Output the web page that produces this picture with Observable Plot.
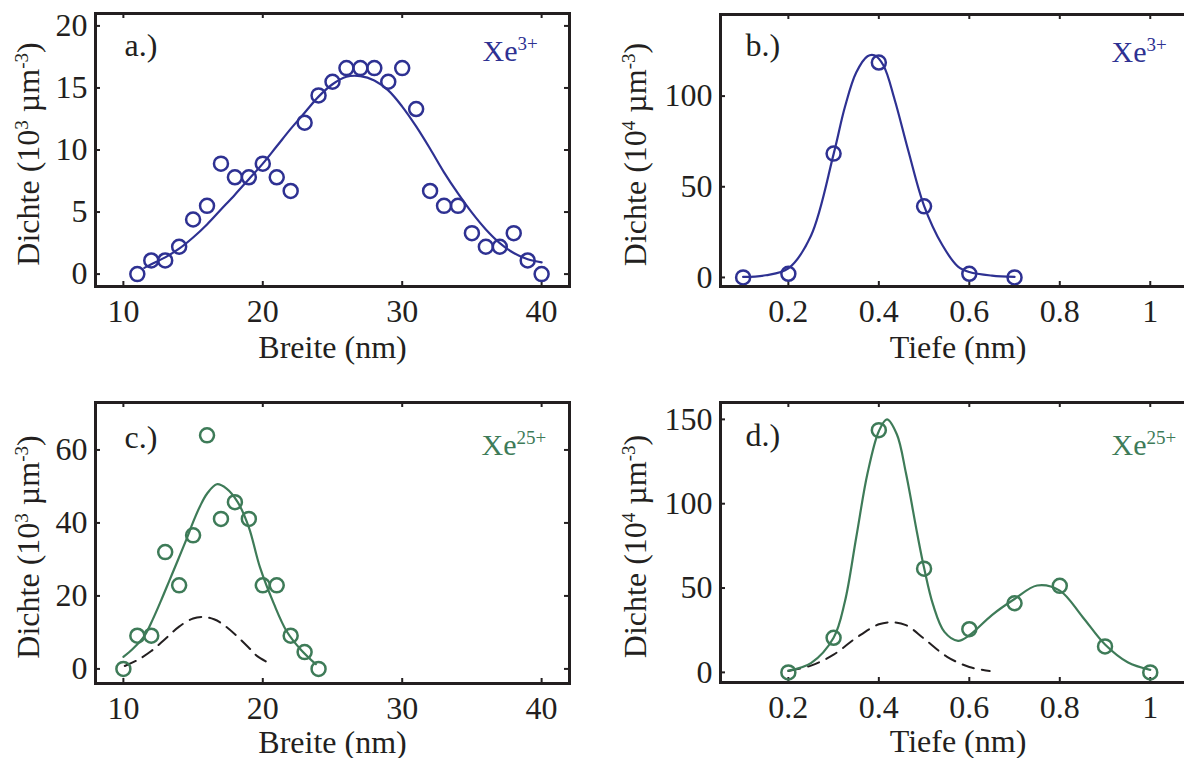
<!DOCTYPE html>
<html><head><meta charset="utf-8">
<script src="https://cdn.jsdelivr.net/npm/d3@7"></script>
<script src="https://cdn.jsdelivr.net/npm/@observablehq/plot@0.6"></script>
<style>
html,body{margin:0;padding:0;background:#fff;overflow:hidden;}
#wrap{position:relative;width:1184px;height:758px;overflow:hidden;background:#fff;}
#wrap svg{position:absolute;overflow:visible;}
#wrap svg, #wrap svg text, #wrap svg tspan{font-family:"Liberation Serif","Times New Roman",Times,serif !important;}
</style></head><body><div id="wrap"></div>
<script>
// ---- data ----
const breiteTicks = [10, 20, 30, 40];
const tiefeTicks = [0.2, 0.4, 0.6, 0.8, 1];
const aYTicks = [0, 5, 10, 15, 20];
const bYTicks = [0, 50, 100];
const cYTicks = [0, 20, 40, 60];
const dYTicks = [0, 50, 100, 150];

// a.) Xe3+ Breite
const aX = [11,12,13,14,15,16,17,18,19,20,21,22,23,24,25,26,27,28,29,30,31,32,33,34,35,36,37,38,39,40];
const aY = [0,1.1,1.1,2.2,4.4,5.5,8.9,7.8,7.8,8.9,7.8,6.7,12.2,14.4,15.5,16.6,16.6,16.6,15.5,16.6,13.3,6.7,5.5,5.5,3.3,2.2,2.2,3.3,1.1,0];
const aFitX = [11.5,12,13,14,15,16,17,18,19,20,21,22,23,24,25,26,27,28,29,30,31,32,33,34,35,36,37,38,39,40];
const aFitY = [0.5,0.8,1.35,2.05,2.95,4.0,5.2,6.4,7.65,8.9,10.3,11.7,13.0,14.3,15.3,15.9,15.95,15.6,14.8,13.5,11.9,10.1,8.2,6.5,4.95,3.6,2.5,1.7,1.2,0.95];

// b.) Xe3+ Tiefe
const bX = [0.1,0.2,0.3,0.4,0.5,0.6,0.7];
const bY = [0,2,68.3,118.5,39.2,2,0];
const bFitX = [0.1,0.15,0.2,0.25,0.3,0.325,0.35,0.375,0.39,0.41,0.435,0.465,0.5,0.54,0.575,0.6,0.65,0.7];
const bFitY = [0.3,1.2,5.0,23,68,94,113,122,122.5,117,98,70,39.5,18,6,3,1,0.3];

// c.) Xe25+ Breite
const cX = [10,11,12,13,14,15,16,17,18,19,20,21,22,23,24];
const cY = [0,9.1,9.1,32.0,22.9,36.6,64.0,41.1,45.7,41.1,22.9,22.9,9.1,4.6,0];
const cFitX = [10,10.7,11.5,12.1,12.7,13.3,13.9,14.5,15.05,15.5,16,16.7,17.4,18.2,19,19.8,20.8,21.7,22.7,23.8];
const cFitY = [3.3,5.6,9.0,13.5,18.7,24.2,29.7,35.3,40.7,44.6,48.0,50.6,49.4,45.7,38.8,27.8,17.8,10.4,5.4,1.3];
const cDashX = [10.1,11,12,13,14,15,15.8,16.5,17,18,19,19.6,20.4];
const cDashY = [0.8,2.4,4.9,8.2,11.6,13.8,14.2,13.6,12.6,9.5,5.8,3.5,1.7];

// d.) Xe25+ Tiefe
const dX = [0.2,0.3,0.4,0.5,0.6,0.7,0.8,0.9,1.0];
const dY = [0,20.5,143.6,61.5,25.6,41.0,51.3,15.4,0];
const dFitX = [0.2,0.25,0.3,0.325,0.35,0.375,0.4,0.418,0.44,0.46,0.485,0.5,0.52,0.545,0.575,0.6,0.65,0.7,0.75,0.8,0.85,0.9,0.95,1.0];
const dFitY = [1,5.5,20.5,42,80,118,143,150,141,118,82,62,40,24,18.7,22,34,43.5,51.5,48.5,33,16.5,6,1.5];
const dDashX = [0.2,0.25,0.3,0.35,0.4,0.43,0.46,0.5,0.55,0.6,0.645];
const dDashY = [0.8,4,10.5,20.5,28.5,29.7,28,20,9.4,3.2,0.8];

// ---- styling ----
const ink = "#231f20";
const blue = "#2e3192";
const green = "#3e7b58";
const FONT = "Liberation Serif, Times New Roman, Times, serif";

const zip = (xs, ys) => xs.map((x, i) => ({x, y: ys[i]}));

function supify(svg) {
  d3.select(svg).selectAll("text").each(function() {
    const s = this.textContent;
    if (!s.includes("^{")) return;
    const parts = s.split(/\^\{([^}]*)\}/);
    while (this.firstChild) this.removeChild(this.firstChild);
    let raised = false;
    parts.forEach((p, i) => {
      if (p === "") return;
      const t = document.createElementNS("http://www.w3.org/2000/svg", "tspan");
      t.textContent = p;
      if (i % 2 === 1) { t.setAttribute("font-size", "19"); t.setAttribute("dy", "-11"); raised = true; }
      else if (raised) { t.setAttribute("dy", "11"); raised = false; }
      this.appendChild(t);
    });
  });
}

function panel(c) {
  const innerW = c.width - c.ml - c.mr, innerH = c.height - c.mt - c.mb;
  const tickStyle = {stroke: ink, strokeWidth: 2};
  const marks = [
    Plot.ruleX(c.xTicks, {x: d => d, insetTop: innerH - 5, ...tickStyle}),
    Plot.ruleX(c.xTicks, {x: d => d, insetBottom: innerH - 5, ...tickStyle}),
    Plot.ruleY(c.yTicks, {y: d => d, insetRight: innerW - 5, ...tickStyle}),
    Plot.ruleY(c.yTicks, {y: d => d, insetLeft: innerW - 5, ...tickStyle}),
    Plot.axisX({ticks: c.xTicks, tickSize: 0, tickPadding: 13, label: null, fontSize: 32, fontFamily: FONT, fill: ink, tickFormat: d => String(d)}),
    Plot.axisY({ticks: c.yTicks, tickSize: 0, tickPadding: 8, label: null, fontSize: 32, fontFamily: FONT, fill: ink, tickFormat: d => String(d)})
  ];
  if (c.dash) marks.push(Plot.line(c.dash, {x: "x", y: "y", stroke: ink, strokeWidth: 2, strokeDasharray: "12,8", curve: "catmull-rom"}));
  marks.push(Plot.line(c.fit, {x: "x", y: "y", stroke: c.color, strokeWidth: 2.2, curve: "catmull-rom"}));
  marks.push(Plot.dot(c.pts, {x: "x", y: "y", r: 7, stroke: c.color, strokeWidth: 2.5, fill: "none"}));
  marks.push(Plot.frame({stroke: ink, strokeWidth: 3}));
  const txt = {fontFamily: FONT, lineAnchor: "bottom"};
  marks.push(Plot.text([c.xLabel], {...txt, text: d => d, frameAnchor: "bottom", dy: c.xLabelDy, textAnchor: "middle", fontSize: 32, fill: ink}));
  marks.push(Plot.text([c.yLabel], {...txt, text: d => d, frameAnchor: "left", rotate: -90, dx: c.yLabelDx, dy: 4, textAnchor: "middle", fontSize: 32, fill: ink}));
  marks.push(Plot.text([c.tag], {...txt, text: d => d, frameAnchor: "top-left", dx: c.tagDx, dy: c.tagDy, textAnchor: "start", fontSize: 32, fill: ink}));
  marks.push(Plot.text([c.ion], {...txt, text: d => d, frameAnchor: "top-left", dx: c.ionDx, dy: c.ionDy, textAnchor: "start", fontSize: 30, fill: c.color}));
  const svg = Plot.plot({
    width: c.width, height: c.height,
    marginLeft: c.ml, marginRight: c.mr, marginTop: c.mt, marginBottom: c.mb,
    x: {domain: c.xDomain}, y: {domain: c.yDomain},
    style: {fontFamily: FONT, fontSize: "32px", color: ink, background: "transparent", overflow: "visible"},
    marks
  });
  supify(svg);
  svg.style.left = c.left + "px";
  svg.style.top = c.top + "px";
  document.getElementById("wrap").appendChild(svg);
}

panel({left: 0, top: 0, width: 592, height: 379, ml: 95, mr: 23, mt: 13, mb: 93,
  xDomain: [8, 42], yDomain: [-1, 21], xTicks: breiteTicks, yTicks: aYTicks,
  pts: zip(aX, aY), fit: zip(aFitX, aFitY), color: blue,
  xLabel: "Breite (nm)", xLabelDy: 71, yLabel: "Dichte (10^{3} µm^{-3})", yLabelDx: -57,
  tag: "a.)", tagDx: 29, tagDy: 42, ion: "Xe^{3+}", ionDx: 387, ionDy: 47});

panel({left: 592, top: 0, width: 613, height: 379, ml: 128, mr: 10, mt: 14, mb: 93,
  xDomain: [0.05, 1.1], yDomain: [-5, 145], xTicks: tiefeTicks, yTicks: bYTicks,
  pts: zip(bX, bY), fit: zip(bFitX, bFitY), color: blue,
  xLabel: "Tiefe (nm)", xLabelDy: 71, yLabel: "Dichte (10^{4} µm^{-3})", yLabelDx: -75,
  tag: "b.)", tagDx: 25, tagDy: 41, ion: "Xe^{3+}", ionDx: 391, ionDy: 47});

panel({left: 0, top: 379, width: 592, height: 379, ml: 95, mr: 23, mt: 23, mb: 75,
  xDomain: [8, 42], yDomain: [-4, 73], xTicks: breiteTicks, yTicks: cYTicks,
  pts: zip(cX, cY), fit: zip(cFitX, cFitY), dash: zip(cDashX, cDashY), color: green,
  xLabel: "Breite (nm)", xLabelDy: 69, yLabel: "Dichte (10^{3} µm^{-3})", yLabelDx: -57,
  tag: "c.)", tagDx: 29, tagDy: 45, ion: "Xe^{25+}", ionDx: 386, ionDy: 52});

panel({left: 592, top: 379, width: 613, height: 379, ml: 128, mr: 10, mt: 23, mb: 76,
  xDomain: [0.05, 1.1], yDomain: [-6, 160], xTicks: tiefeTicks, yTicks: dYTicks,
  pts: zip(dX, dY), fit: zip(dFitX, dFitY), dash: zip(dDashX, dDashY), color: green,
  xLabel: "Tiefe (nm)", xLabelDy: 69, yLabel: "Dichte (10^{4} µm^{-3})", yLabelDx: -75,
  tag: "d.)", tagDx: 25, tagDy: 43, ion: "Xe^{25+}", ionDx: 391, ionDy: 52});
</script></body></html>
